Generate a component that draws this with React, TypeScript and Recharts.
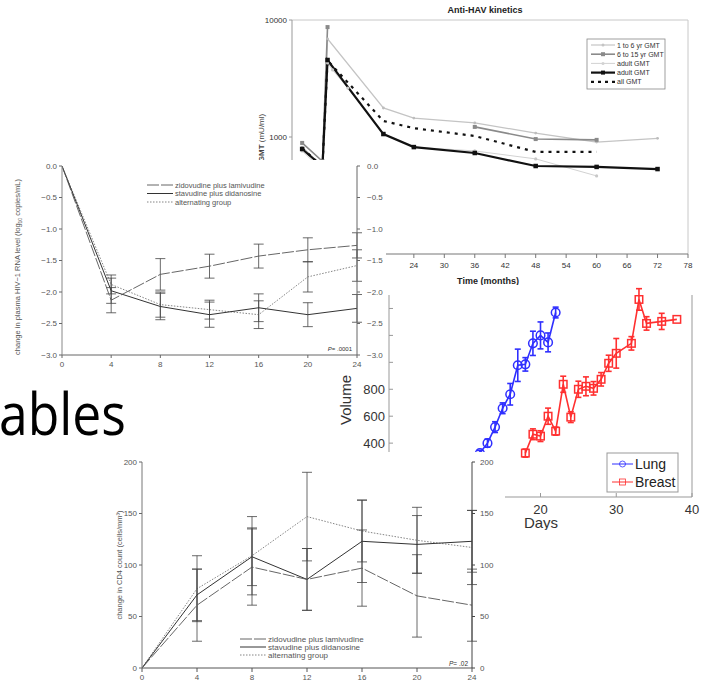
import React from 'react';
import { LineChart, Line, XAxis, YAxis, ErrorBar, ReferenceLine } from 'recharts';

const FONT = '"Liberation Sans", Arial, sans-serif';

// ---------- Anti-HAV kinetics ----------
const havMonths = [2, 6, 7, 8, 11, 18, 24, 36, 48, 60, 72];
const hav1to6 = [820, 560, 6900, null, null, 1770, 1450, 1320, 1080, 905, 975];
const hav6to15 = [890, 620, 8700, null, null, null, null, 1220, 960, 945, null];
const havAdultLight = [760, 520, 4300, 3740, 2620, 1060, 820, 760, 650, 465, null];
const havAdult = [790, 560, 4550, null, null, 1060, 820, 730, 565, 555, 532];
const havAll = [800, 560, 4500, null, null, 1370, 1190, 1020, 745, 745, null];
const havXTicks = [0, 6, 12, 18, 24, 30, 36, 42, 48, 54, 60, 66, 72, 78];
const havYTicks = [100, 1000, 10000];
const havLegend = ['1 to 6 yr GMT', '6 to 15 yr GMT', 'adult GMT', 'adult GMT', 'all GMT'];

// ---------- HIV-1 RNA ----------
const hivWeeks = [0, 4, 8, 12, 16, 20, 24];
const hivZido = [0, -2.13, -1.72, -1.59, -1.43, -1.33, -1.26];
const hivZidoErr = [0, 0.2, 0.25, 0.19, 0.19, 0.19, 0.2];
const hivStav = [0, -1.98, -2.23, -2.36, -2.25, -2.36, -2.26];
const hivStavErr = [0, 0.2, 0.21, 0.2, 0.22, 0.19, 0.22];
const hivAlt = [0, -1.88, -2.2, -2.28, -2.36, -1.76, -1.58];
const hivAltErr = [0, 0.15, 0.2, 0.15, 0.22, 0.24, 0.25];
const hivYTicks = [0, -0.5, -1, -1.5, -2, -2.5, -3];
const hivXTicks = [0, 4, 8, 12, 16, 20, 24];

// ---------- CD4 ----------
const cd4Weeks = [0, 4, 8, 12, 16, 20, 24];
const cd4Zido = [0, 61, 98, 86, 97, 70, 61];
const cd4ZidoErr = [0, 35, 37, 30, 37, 40, 35];
const cd4Stav = [0, 71, 108, 86, 123, 120, 123];
const cd4StavErr = [0, 25, 28, 30, 40, 28, 30];
const cd4Alt = [0, 77, 109, 147, 133, 124, 117];
const cd4AltErr = [0, 32, 38, 43, 30, 32, 36];
const cd4YTicks = [0, 50, 100, 150, 200];
const cd4XTicks = [0, 4, 8, 12, 16, 20, 24];

const trialLegend = ['zidovudine plus lamivudine', 'stavudine plus didanosine', 'alternating group'];

// ---------- Volume ----------
const lungDays = [11, 12, 13, 14, 15, 16, 17, 18, 19, 20, 21, 22];
const lungVol = [260, 326, 400, 519, 659, 763, 978, 985, 1141, 1200, 1148, 1370];
const lungErr = [20, 20, 30, 40, 40, 80, 120, 50, 90, 100, 70, 40];
const breastDays = [18, 19, 20, 21, 22, 23, 24, 25, 26, 27, 28, 29, 30, 32, 33, 34, 36, 38];
const breastVol = [326, 466, 452, 600, 489, 837, 593, 800, 822, 807, 874, 993, 1067, 1141, 1467, 1289, 1304, 1319];
const breastErr = [30, 40, 40, 60, 30, 60, 40, 60, 70, 50, 50, 60, 110, 50, 80, 50, 60, 0];
const volYTicks = [0, 200, 400, 600, 800, 1000, 1200, 1400];
const volXTicks = [0, 10, 20, 30, 40];
const volLegend = ['Lung', 'Breast'];

const havData = havMonths.map((m, i) => ({
  m, a: hav1to6[i], b: hav6to15[i], c: havAdultLight[i], d: havAdult[i], e: havAll[i],
}));
const hivData = hivWeeks.map((w, i) => ({
  w, z: hivZido[i], ze: hivZidoErr[i], s: hivStav[i], se: hivStavErr[i], a: hivAlt[i], ae: hivAltErr[i],
}));
const cd4Data = cd4Weeks.map((w, i) => ({
  w, z: cd4Zido[i], ze: cd4ZidoErr[i], s: cd4Stav[i], se: cd4StavErr[i], a: cd4Alt[i], ae: cd4AltErr[i],
}));
const lungData = lungDays.map((d, i) => ({ d, v: lungVol[i], e: lungErr[i] }));
const breastData = breastDays.map((d, i) => ({ d, v: breastVol[i], e: breastErr[i] }));

const ok = (v: any) => typeof v === 'number' && Number.isFinite(v);

const squareDot = (size: number, fill: string, stroke = 'none', sw = 1) => (props: any) => {
  const { cx, cy, index } = props;
  if (!ok(cx) || !ok(cy)) return <g key={`sq${index}`} />;
  return <rect key={`sq${index}`} x={cx - size / 2} y={cy - size / 2} width={size} height={size} fill={fill} stroke={stroke} strokeWidth={sw} />;
};
const circleDot = (r: number, fill: string, stroke = 'none', sw = 1) => (props: any) => {
  const { cx, cy, index } = props;
  if (!ok(cx) || !ok(cy)) return <g key={`ci${index}`} />;
  return <circle key={`ci${index}`} cx={cx} cy={cy} r={r} fill={fill} stroke={stroke} strokeWidth={sw} />;
};

const fmtNeg = (v: number) => (v === 0 ? '0.0' : '\u2212' + Math.abs(v).toFixed(1));
// early month labels sit under the overlapping panel in the reference
const fmtHavX = (v: number) => (v < 24 ? '' : String(v));

const box = (left: number, top: number, width: number, height: number): React.CSSProperties => ({
  position: 'absolute', left, top, width, height, background: '#fff', overflow: 'hidden',
});
const overlay: React.CSSProperties = { position: 'absolute', left: 0, top: 0, pointerEvents: 'none' };

function HavChart() {
  const tick = { fontSize: 8, fill: '#333', fontFamily: FONT };
  const W = 448, H = 300;
  const legendStyles = [
    { stroke: '#c4c4c4', w: 1.2, dash: undefined, mark: 'c' },
    { stroke: '#8a8a8a', w: 1.6, dash: undefined, mark: 's' },
    { stroke: '#d2d2d2', w: 1, dash: undefined, mark: 'c' },
    { stroke: '#111', w: 2.2, dash: undefined, mark: 's' },
    { stroke: '#111', w: 2.2, dash: '3 4', mark: '' },
  ];
  return (
    <div style={box(255, 0, W, H)}>
      <LineChart width={W} height={H} data={havData} margin={{ top: 20, right: 15, bottom: 0, left: 0 }}>
        <XAxis dataKey="m" type="number" domain={[0, 78]} ticks={havXTicks} interval={0} height={46}
          allowDataOverflow tick={tick} tickSize={4} tickMargin={4} tickFormatter={fmtHavX}
          axisLine={{ stroke: '#777' }} tickLine={{ stroke: '#777' }} />
        <YAxis scale="log" domain={[100, 10000]} ticks={havYTicks} interval={0} width={37}
          allowDataOverflow tick={tick} tickSize={3} tickMargin={2}
          axisLine={{ stroke: '#999' }} tickLine={{ stroke: '#999' }} />
        <ReferenceLine y={10000} stroke="#c8c8c8" />
        <ReferenceLine x={78} stroke="#c8c8c8" />
        <Line dataKey="c" stroke="#d2d2d2" strokeWidth={1} connectNulls isAnimationActive={false}
          dot={circleDot(1.6, '#c8c8c8')} />
        <Line dataKey="a" stroke="#c4c4c4" strokeWidth={1.3} connectNulls isAnimationActive={false}
          dot={circleDot(1.4, '#bdbdbd')} />
        <Line dataKey="b" stroke="#8a8a8a" strokeWidth={1.6} isAnimationActive={false}
          dot={squareDot(4, '#8a8a8a')} />
        <Line dataKey="e" stroke="#111" strokeWidth={2.2} strokeDasharray="3 5" connectNulls isAnimationActive={false}
          dot={false} />
        <Line dataKey="d" stroke="#111" strokeWidth={2.2} connectNulls isAnimationActive={false}
          dot={squareDot(4.5, '#111')} />
      </LineChart>
      <svg width={W} height={H} style={overlay}>
        <text x={230} y={13} textAnchor="middle" fontFamily={FONT} fontWeight="bold" fontSize={9} fill="#222">Anti-HAV kinetics</text>
        <text x={233} y={284} textAnchor="middle" fontFamily={FONT} fontWeight="bold" fontSize={9} fill="#222">Time (months)</text>
        <text x={9} y={138} transform="rotate(-90 9 138)" textAnchor="middle" fontFamily={FONT} fontSize={8} fill="#444">
          <tspan fontWeight="bold">GMT</tspan> (mU/ml)
        </text>
        <rect x={332} y={39} width={78} height={50} fill="#fff" stroke="#888" strokeWidth={0.8} />
        {havLegend.map((t, i) => {
          const y = 45 + i * 9.2;
          const s = legendStyles[i];
          return (
            <g key={i}>
              <line x1={336} x2={360} y1={y} y2={y} stroke={s.stroke} strokeWidth={s.w} strokeDasharray={s.dash} />
              {s.mark === 's' && <rect x={346} y={y - 2} width={4} height={4} fill={s.stroke} />}
              {s.mark === 'c' && <circle cx={348} cy={y} r={1.5} fill={s.stroke} />}
              <text x={362} y={y + 2.5} fontFamily={FONT} fontSize={7} fill="#333">{t}</text>
            </g>
          );
        })}
      </svg>
    </div>
  );
}

function TrialLegend({ x, y, step, fs }: { x: number; y: number; step: number; fs: number }) {
  const dashes = ['12 2', undefined, '1.5 1.5'];
  const cols = ['#555', '#333', '#777'];
  return (
    <g>
      {trialLegend.map((t, i) => (
        <g key={i}>
          <line x1={x} x2={x + 26} y1={y + i * step} y2={y + i * step} stroke={cols[i]} strokeWidth={i === 1 ? 1 : 0.9} strokeDasharray={dashes[i]} />
          <text x={x + 28} y={y + i * step + 2.5} fontFamily={FONT} fontSize={fs} fill="#555">{t}</text>
        </g>
      ))}
    </g>
  );
}

function HivChart() {
  const tick = { fontSize: 8, fill: '#555', fontFamily: FONT };
  const W = 386, H = 215;
  const eb = { width: 5, stroke: '#444', strokeWidth: 0.8 };
  return (
    <div style={box(0, 160, W, H)}>
      <LineChart width={W} height={H} data={hivData} margin={{ top: 6, right: 0, bottom: 0, left: 0 }}>
        <XAxis dataKey="w" type="number" domain={[0, 24]} ticks={hivXTicks} interval={0} height={20}
          allowDataOverflow tick={tick} tickSize={3} tickMargin={3}
          axisLine={{ stroke: '#666' }} tickLine={{ stroke: '#666' }} />
        <YAxis yAxisId="l" domain={[-3, 0]} ticks={hivYTicks} interval={0} width={62} tickFormatter={fmtNeg}
          allowDataOverflow tick={tick} tickSize={3} tickMargin={2}
          axisLine={{ stroke: '#888' }} tickLine={{ stroke: '#666' }} />
        <YAxis yAxisId="r" orientation="right" domain={[-3, 0]} ticks={hivYTicks} interval={0} width={29} tickFormatter={fmtNeg}
          allowDataOverflow tick={tick} tickSize={3} tickMargin={7}
          axisLine={{ stroke: '#666' }} tickLine={{ stroke: '#666' }} />
        <Line yAxisId="l" dataKey="a" stroke="#777" strokeWidth={0.9} strokeDasharray="1.5 1.5" dot={false} isAnimationActive={false}>
          <ErrorBar dataKey="ae" direction="y" {...eb} />
        </Line>
        <Line yAxisId="l" dataKey="s" stroke="#333" strokeWidth={1} dot={false} isAnimationActive={false}>
          <ErrorBar dataKey="se" direction="y" {...eb} />
        </Line>
        <Line yAxisId="l" dataKey="z" stroke="#555" strokeWidth={0.9} strokeDasharray="12 2" dot={false} isAnimationActive={false}>
          <ErrorBar dataKey="ze" direction="y" {...eb} />
        </Line>
      </LineChart>
      <svg width={W} height={H} style={overlay}>
        <text x={20} y={107} transform="rotate(-90 20 107)" textAnchor="middle" fontFamily={FONT} fontSize={7.5} fill="#555">
          change in plasma HIV−1 RNA level (log<tspan fontSize={5} dy={2}>10</tspan><tspan dy={-2}> copies/mL)</tspan>
        </text>
        <TrialLegend x={147} y={25} step={8.5} fs={7.5} />
        <text x={352} y={191} textAnchor="end" fontFamily={FONT} fontSize={6} fill="#333"><tspan fontStyle="italic">P</tspan>= .0001</text>
      </svg>
    </div>
  );
}

function Cd4Chart() {
  const tick = { fontSize: 8, fill: '#555', fontFamily: FONT };
  const W = 405, H = 232;
  const eb = { width: 5, stroke: '#444', strokeWidth: 0.8 };
  return (
    <div style={box(100, 452, W, H)}>
      <LineChart width={W} height={H} data={cd4Data} margin={{ top: 10, right: 0, bottom: 0, left: 0 }}>
        <XAxis dataKey="w" type="number" domain={[0, 24]} ticks={cd4XTicks} interval={0} height={16}
          allowDataOverflow tick={tick} tickSize={4} tickMargin={2}
          axisLine={{ stroke: '#555' }} tickLine={{ stroke: '#555' }} />
        <YAxis yAxisId="l" domain={[0, 200]} ticks={cd4YTicks} interval={0} width={42}
          allowDataOverflow tick={tick} tickSize={3} tickMargin={2}
          axisLine={{ stroke: '#777' }} tickLine={{ stroke: '#666' }} />
        <YAxis yAxisId="r" orientation="right" domain={[0, 200]} ticks={cd4YTicks} interval={0} width={33}
          allowDataOverflow tick={tick} tickSize={3} tickMargin={5}
          axisLine={{ stroke: '#444' }} tickLine={{ stroke: '#444' }} />
        <Line yAxisId="l" dataKey="a" stroke="#777" strokeWidth={0.9} strokeDasharray="1.5 1.5" dot={false} isAnimationActive={false}>
          <ErrorBar dataKey="ae" direction="y" {...eb} />
        </Line>
        <Line yAxisId="l" dataKey="s" stroke="#333" strokeWidth={1} dot={false} isAnimationActive={false}>
          <ErrorBar dataKey="se" direction="y" {...eb} />
        </Line>
        <Line yAxisId="l" dataKey="z" stroke="#555" strokeWidth={0.9} strokeDasharray="12 2" dot={false} isAnimationActive={false}>
          <ErrorBar dataKey="ze" direction="y" {...eb} />
        </Line>
      </LineChart>
      <svg width={W} height={H} style={overlay}>
        <text x={22} y={113} transform="rotate(-90 22 113)" textAnchor="middle" fontFamily={FONT} fontSize={7.5} fill="#555">
          change in CD4 count (cells/mm³)
        </text>
        <TrialLegend x={140} y={187} step={8} fs={8} />
        <text x={368} y={214} textAnchor="end" fontFamily={FONT} fontSize={6.5} fill="#333"><tspan fontStyle="italic">P</tspan>= .02</text>
      </svg>
    </div>
  );
}

function VolumeChart() {
  const tick = { fontSize: 13, fill: '#333', fontFamily: FONT };
  const W = 373, H = 245;
  const blue = '#2f2fff';
  const red = '#ff3030';
  return (
    <div style={box(330, 285, W, H)}>
      <LineChart width={W} height={H} margin={{ top: 10, right: 0, bottom: 0, left: 0 }}>
        <XAxis dataKey="d" type="number" domain={[0, 40]} ticks={volXTicks} interval={0} height={33}
          allowDataOverflow tick={tick} tickSize={-4} tickMargin={12}
          axisLine={{ stroke: '#999' }} tickLine={{ stroke: '#999' }} />
        <YAxis yAxisId="l" domain={[0, 1500]} ticks={volYTicks} interval={0} width={59}
          allowDataOverflow tick={tick} tickSize={-4} tickMargin={8}
          axisLine={{ stroke: '#999' }} tickLine={{ stroke: '#999' }} />
        <YAxis yAxisId="r" orientation="right" domain={[0, 1500]} ticks={volYTicks} interval={0} width={11}
          allowDataOverflow tick={false} tickSize={-5}
          axisLine={{ stroke: '#999' }} tickLine={{ stroke: '#999' }} />
        <Line yAxisId="l" data={lungData} dataKey="v" stroke={blue} strokeWidth={1.6} isAnimationActive={false}
          dot={circleDot(4.3, 'none', blue, 1.5)}>
          <ErrorBar dataKey="e" direction="y" width={3} stroke={blue} strokeWidth={1.6} />
        </Line>
        <Line yAxisId="l" data={breastData} dataKey="v" stroke={red} strokeWidth={1.6} isAnimationActive={false}
          dot={squareDot(7.5, 'none', red, 1.5)}>
          <ErrorBar dataKey="e" direction="y" width={3} stroke={red} strokeWidth={1.6} />
        </Line>
      </LineChart>
      <svg width={W} height={H} style={overlay}>
        <text x={21} y={115} transform="rotate(-90 21 115)" textAnchor="middle" fontFamily={FONT} fontSize={15} fill="#333">Volume</text>
        <text x={211} y={243} textAnchor="middle" fontFamily={FONT} fontSize={15} fill="#333">Days</text>
        <rect x={277} y={168} width={71} height={39} fill="#fff" stroke="#999" strokeWidth={1} />
        {volLegend.map((t, i) => {
          const y = 179 + i * 18;
          const c = i === 0 ? blue : red;
          return (
            <g key={i}>
              <line x1={282} x2={303} y1={y} y2={y} stroke={c} strokeWidth={1} />
              {i === 0 ? <circle cx={292.5} cy={y} r={3} fill="none" stroke={c} strokeWidth={0.8} />
                : <rect x={289.5} y={y - 3} width={6} height={6} fill="none" stroke={c} strokeWidth={0.8} />}
              <text x={305} y={y + 5} fontFamily={FONT} fontSize={14} fill="#222">{t}</text>
            </g>
          );
        })}
      </svg>
    </div>
  );
}

export default function App() {
  return (
    <div style={{ position: 'absolute', left: 0, top: 0, width: 703, height: 684, background: '#fff', overflow: 'hidden' }}>
      <HavChart />
      <VolumeChart />
      <HivChart />
      <svg width={200} height={80} style={{ position: 'absolute', left: 0, top: 380 }}>
        <text x={-1} y={55} fontFamily='"Open Sans", "Noto Sans", sans-serif' fontSize={58} fill="#000"
          textLength={127} lengthAdjust="spacingAndGlyphs">ables</text>
      </svg>
      <Cd4Chart />
    </div>
  );
}
